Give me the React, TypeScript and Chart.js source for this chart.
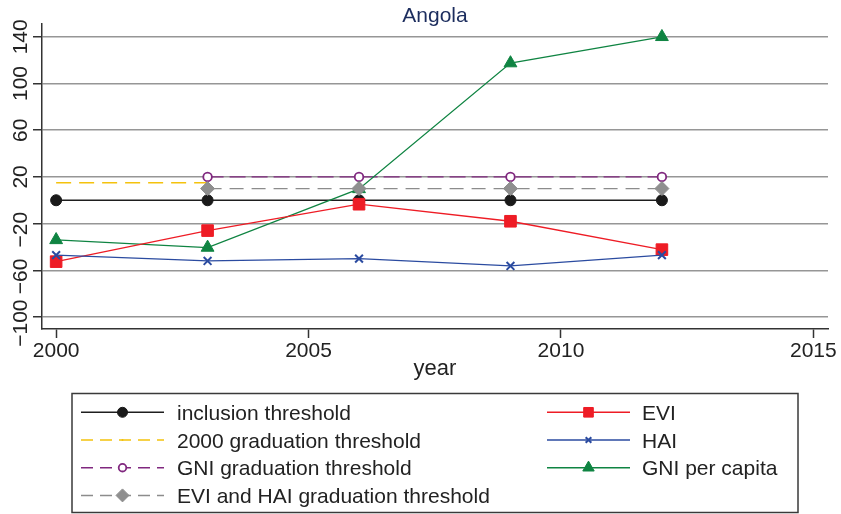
import React, { useEffect, useRef } from 'react';
import { Chart, registerables } from 'chart.js';

Chart.register(...registerables);

// ---- data ----
const years = [2000, 2003, 2006, 2009, 2012];
const inclusionThreshold = [0, 0, 0, 0, 0];
const graduation2000 = [15, 15, null, null, null];
const gniGraduation = [null, 20, 20, 20, 20];
const eviHaiGraduation = [null, 10, 10, 10, 10];
const evi = [-52.6, -26, -3.4, -18, -42.3];
const hai = [-47, -52, -50, -56.3, -47];
const gniPerCapita = [-34, -40.5, 9.7, 117.5, 140];
const xTicks = [2000, 2005, 2010, 2015];
const yTicks = [-100, -60, -20, 20, 60, 100, 140];
const chartTitle = 'Angola';
const xTitle = 'year';
const seriesLabels = [
  'inclusion threshold',
  '2000 graduation threshold',
  'GNI graduation threshold',
  'EVI and HAI graduation threshold',
  'EVI',
  'HAI',
  'GNI per capita',
];

const FONT = "'Liberation Sans', Arial, Helvetica, sans-serif";

type Style = {
  color: string;
  dash: number[];
  marker: string;
  r: number;
  fill: string;
  stroke: string;
  bw: number;
  order: number;
  legendR: number;
};

const styles: Style[] = [
  { color: '#1e1e1e', dash: [], marker: 'circle', r: 5.5, fill: '#1a1a1a', stroke: '#1a1a1a', bw: 1, order: 7, legendR: 5 },
  { color: '#f4c20d', dash: [15, 8], marker: 'none', r: 0, fill: '#f4c20d', stroke: '#f4c20d', bw: 1, order: 6, legendR: 1 },
  { color: '#80287f', dash: [16, 6], marker: 'circle', r: 4.3, fill: '#ffffff', stroke: '#80287f', bw: 1.8, order: 5, legendR: 3.8 },
  { color: '#8c8c8c', dash: [14, 8], marker: 'rectRot', r: 7, fill: '#8f8f8f', stroke: '#8f8f8f', bw: 1, order: 3, legendR: 6.5 },
  { color: '#ee1c25', dash: [], marker: 'rect', r: 8.2, fill: '#ee1c25', stroke: '#ee1c25', bw: 1, order: 2, legendR: 6.8 },
  { color: '#2b4ba0', dash: [], marker: 'crossRot', r: 5.5, fill: '#2b4ba0', stroke: '#2b4ba0', bw: 2, order: 1, legendR: 4 },
  { color: '#0f8442', dash: [], marker: 'triangle', r: 7.4, fill: '#0f8442', stroke: '#0f8442', bw: 1, order: 4, legendR: 6.6 },
];

const seriesValues = [
  inclusionThreshold,
  graduation2000,
  gniGraduation,
  eviHaiGraduation,
  evi,
  hai,
  gniPerCapita,
];

function toPoints(values: (number | null)[]) {
  const pts: { x: number; y: number }[] = [];
  values.forEach((v, i) => {
    if (v !== null && v !== undefined) pts.push({ x: years[i], y: v });
  });
  return pts;
}

function drawMarker(ctx: CanvasRenderingContext2D, s: Style, x: number, y: number, r: number) {
  ctx.save();
  ctx.setLineDash([]);
  ctx.fillStyle = s.fill;
  ctx.strokeStyle = s.stroke;
  ctx.lineWidth = s.bw;
  ctx.beginPath();
  switch (s.marker) {
    case 'none':
      ctx.arc(x, y, r, 0, Math.PI * 2);
      ctx.fill();
      break;
    case 'circle':
      ctx.arc(x, y, r, 0, Math.PI * 2);
      ctx.fill();
      ctx.stroke();
      break;
    case 'rect': {
      const h = r * Math.SQRT1_2;
      ctx.rect(x - h, y - h, 2 * h, 2 * h);
      ctx.fill();
      ctx.stroke();
      break;
    }
    case 'rectRot':
      ctx.moveTo(x - r, y);
      ctx.lineTo(x, y - r);
      ctx.lineTo(x + r, y);
      ctx.lineTo(x, y + r);
      ctx.closePath();
      ctx.fill();
      ctx.stroke();
      break;
    case 'crossRot': {
      const o = r * Math.SQRT1_2;
      ctx.moveTo(x - o, y - o);
      ctx.lineTo(x + o, y + o);
      ctx.moveTo(x + o, y - o);
      ctx.lineTo(x - o, y + o);
      ctx.stroke();
      break;
    }
    case 'triangle': {
      for (let k = 0; k < 3; k++) {
        const a = (k * 2 * Math.PI) / 3;
        const px = x + Math.sin(a) * r;
        const py = y - Math.cos(a) * r;
        if (k === 0) ctx.moveTo(px, py);
        else ctx.lineTo(px, py);
      }
      ctx.closePath();
      ctx.fill();
      ctx.stroke();
      break;
    }
  }
  ctx.restore();
}

const overlayPlugin = {
  id: 'stataOverlay',
  afterDraw(chart: any) {
    const ctx: CanvasRenderingContext2D = chart.ctx;
    const area = chart.chartArea;
    const ys = chart.scales.y;
    const cx = (area.left + area.right) / 2;
    ctx.save();

    // title
    ctx.font = `21px ${FONT}`;
    ctx.fillStyle = '#1c2d5e';
    ctx.textAlign = 'center';
    ctx.textBaseline = 'alphabetic';
    ctx.fillText(chartTitle, cx, 22);

    // rotated y tick labels
    ctx.fillStyle = '#222222';
    ctx.font = `21px ${FONT}`;
    for (const t of ys.ticks) {
      const v = t.value;
      const py = ys.getPixelForValue(v);
      const abs = String(Math.abs(v));
      const label = v < 0 ? '\u2212' + abs : abs;
      const full = ctx.measureText(label).width;
      const dw = ctx.measureText(abs).width;
      ctx.save();
      ctx.translate(27, py);
      ctx.rotate(-Math.PI / 2);
      ctx.textAlign = 'left';
      ctx.textBaseline = 'alphabetic';
      ctx.fillText(label, -dw / 2 - (full - dw), 0);
      ctx.restore();
    }

    // x axis title
    ctx.font = `22px ${FONT}`;
    ctx.textAlign = 'center';
    ctx.textBaseline = 'alphabetic';
    ctx.fillStyle = '#222222';
    ctx.fillText(xTitle, cx, 375);

    // legend box
    ctx.strokeStyle = '#3a3a3a';
    ctx.lineWidth = 1.5;
    ctx.setLineDash([]);
    ctx.strokeRect(72, 393.5, 726, 119);

    const rowY0 = 412.3;
    const rowStep = 27.7;
    const cols = [
      { x1: 81, x2: 164, tx: 177 },
      { x1: 547, x2: 630, tx: 642 },
    ];
    ctx.font = `21px ${FONT}`;
    seriesLabels.forEach((lab, i) => {
      const col = i < 4 ? cols[0] : cols[1];
      const row = i < 4 ? i : i - 4;
      const y = rowY0 + row * rowStep;
      const s = styles[i];
      ctx.save();
      ctx.strokeStyle = s.color;
      ctx.lineWidth = 1.5;
      ctx.setLineDash(s.dash.length ? [12, 7] : []);
      ctx.beginPath();
      ctx.moveTo(col.x1, y);
      ctx.lineTo(col.x2, y);
      ctx.stroke();
      ctx.restore();
      drawMarker(ctx, s, (col.x1 + col.x2) / 2, y, s.legendR);
      ctx.fillStyle = '#222222';
      ctx.textAlign = 'left';
      ctx.textBaseline = 'alphabetic';
      ctx.fillText(lab, col.tx, y + 7.5);
    });

    ctx.restore();
  },
};

export default function App() {
  const canvasRef = useRef<HTMLCanvasElement | null>(null);

  useEffect(() => {
    const canvas = canvasRef.current;
    if (!canvas) return;

    const datasets = seriesValues.map((vals, i) => {
      const s = styles[i];
      return {
        label: seriesLabels[i],
        data: toPoints(vals),
        borderColor: s.color,
        backgroundColor: s.fill,
        borderWidth: 1.3,
        borderDash: s.dash,
        tension: 0,
        fill: false,
        order: s.order,
        pointStyle: s.marker === 'none' ? 'circle' : s.marker,
        pointRadius: s.marker === 'none' ? 0 : s.r,
        pointHoverRadius: s.marker === 'none' ? 0 : s.r,
        pointBackgroundColor: s.fill,
        pointBorderColor: s.stroke,
        pointBorderWidth: s.bw,
      };
    });

    const chart = new Chart(canvas, {
      type: 'line',
      data: { datasets },
      options: {
        animation: false,
        responsive: false,
        maintainAspectRatio: false,
        layout: { padding: { left: 0, top: 24, right: 13, bottom: 130 } },
        plugins: {
          legend: { display: false },
          tooltip: { enabled: false },
          title: { display: false },
        },
        scales: {
          x: {
            type: 'linear',
            min: 1999.72,
            max: 2015.29,
            afterBuildTicks: (scale: any) => {
              scale.ticks = xTicks.map((v) => ({ value: v }));
            },
            afterFit: (scale: any) => {
              scale.height = 55;
            },
            border: { display: true, color: '#333333', width: 1.5 },
            grid: {
              drawOnChartArea: false,
              drawTicks: true,
              tickLength: 9,
              tickColor: '#333333',
              tickWidth: 1.5,
            },
            ticks: {
              autoSkip: false,
              maxRotation: 0,
              minRotation: 0,
              padding: 1,
              color: '#222222',
              font: { family: FONT, size: 21 },
              callback: (v: any) => String(v),
            },
          },
          y: {
            type: 'linear',
            min: -110.3,
            max: 151,
            afterBuildTicks: (scale: any) => {
              scale.ticks = yTicks.map((v) => ({ value: v }));
            },
            afterFit: (scale: any) => {
              scale.width = 42;
            },
            border: { display: true, color: '#333333', width: 1.5 },
            grid: {
              drawOnChartArea: true,
              drawTicks: true,
              tickLength: 9,
              color: '#969696',
              lineWidth: 1.5,
              tickColor: '#333333',
              tickWidth: 1.5,
            },
            ticks: { display: false },
          },
        },
      },
      plugins: [overlayPlugin],
    } as any);

    return () => chart.destroy();
  }, []);

  return (
    <div style={{ position: 'fixed', left: 0, top: 0, width: 841, height: 514, background: '#ffffff' }}>
      <canvas ref={canvasRef} width={841} height={514} style={{ display: 'block', width: 841, height: 514 }} />
    </div>
  );
}
